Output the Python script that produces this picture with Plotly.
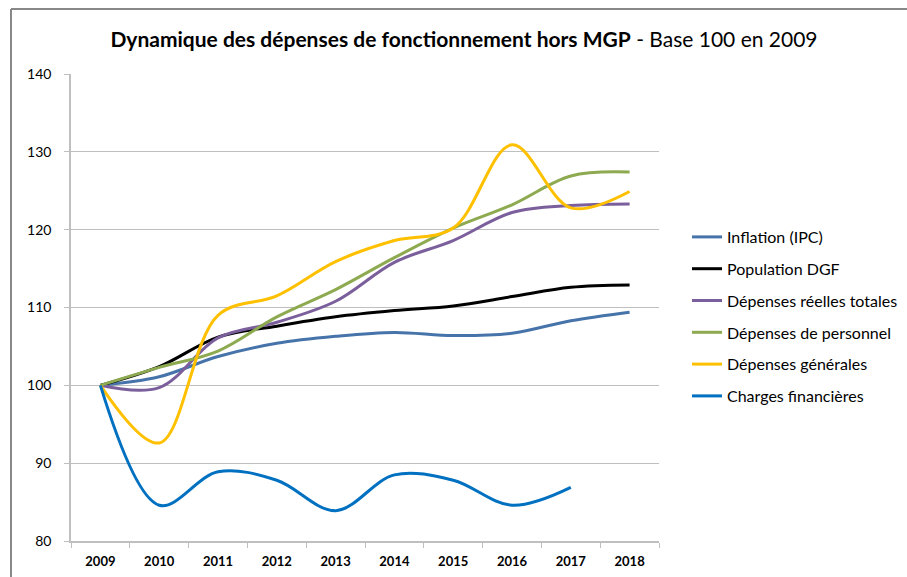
import plotly.graph_objects as go

years = ["2009", "2010", "2011", "2012", "2013", "2014", "2015", "2016", "2017", "2018"]

inflation = [100, 101.1, 103.7, 105.4, 106.3, 106.8, 106.4, 106.7, 108.3, 109.4]
population = [100, 102.4, 106.2, 107.6, 108.8, 109.6, 110.2, 111.4, 112.6, 112.9]
dep_totales = [100, 99.7, 106.1, 108.1, 110.8, 115.8, 118.6, 122.2, 123.1, 123.3]
dep_personnel = [100, 102.3, 104.4, 108.8, 112.3, 116.4, 120.2, 123.2, 126.9, 127.4]
dep_generales = [100, 92.6, 109.0, 111.5, 115.9, 118.6, 120.2, 130.9, 122.8, 124.9]
charges_fin = [100, 84.6, 88.9, 87.8, 83.9, 88.5, 87.8, 84.6, 86.9, None]

series = [
    ("Inflation (IPC)", inflation, "#4674AA"),
    ("Population DGF", population, "#000000"),
    ("Dépenses réelles totales", dep_totales, "#7B5F9C"),
    ("Dépenses de personnel", dep_personnel, "#8DAA50"),
    ("Dépenses générales", dep_generales, "#FFC000"),
    ("Charges financières", charges_fin, "#0070C0"),
]

FONT = "Lato"

fig = go.Figure()
for i, (name, vals, col) in enumerate(series):
    fig.add_trace(go.Scatter(
        x=years, y=vals, name=name, mode="lines",
        line=dict(color=col, width=3, shape="spline", smoothing=1.0),
        legendgroup=f"g{i}",
        connectgaps=False,
    ))

L, R = 71, 659
T, B = 74, 541
W, H = 907, 577
pw = R - L
ph = B - T

def px(x):
    return (x - L) / pw

def py(y):
    return (B - y) / ph

fig.update_layout(
    width=W, height=H,
    margin=dict(l=L, r=W - R, t=T, b=H - B, autoexpand=False),
    paper_bgcolor="white", plot_bgcolor="white",
    font=dict(family=FONT, color="#000000", size=13),
    title=dict(
        text="<b>Dynamique des dépenses de fonctionnement hors MGP</b> - Base 100 en 2009",
        x=464 / W, xanchor="center", y=1 - 40 / H, yanchor="middle",
        font=dict(family=FONT, size=21, color="#000000"),
    ),
    showlegend=True,
    legend=dict(
        x=px(687), xanchor="left", y=py(220), yanchor="top",
        font=dict(family=FONT, size=16, color="#000000"),
        tracegroupgap=8, itemwidth=30,
        bgcolor="rgba(0,0,0,0)",
    ),
    xaxis=dict(
        type="category", range=[-0.5, 9.5],
        showgrid=False, showline=True, linecolor="#BFBFBF", linewidth=1.5,
        ticks="outside", ticklen=5, tickcolor="#BFBFBF", tickwidth=1,
        tickson="boundaries", ticklabelstandoff=8,
        tickfont=dict(family=FONT, size=13, color="#000000", weight="bold"),
        fixedrange=True,
    ),
    yaxis=dict(
        range=[80, 140], dtick=10, tick0=80,
        showgrid=True, gridcolor="#BFBFBF", gridwidth=1,
        showline=True, linecolor="#BFBFBF", linewidth=1.5,
        ticks="outside", ticklen=5, tickcolor="#BFBFBF",
        tickfont=dict(family=FONT, size=14, color="#000000"),
        zeroline=False, ticklabelstandoff=10,
    ),
    shapes=[
        dict(type="line", xref="paper", yref="paper",
             x0=px(11), x1=px(910), y0=py(9), y1=py(9),
             line=dict(color="#888888", width=2)),
        dict(type="line", xref="paper", yref="paper",
             x0=px(11), x1=px(11), y0=py(9), y1=py(600),
             line=dict(color="#888888", width=2)),
    ],
)

fig.write_html("out.html", config={"displayModeBar": False})

with open("out.html", "r", encoding="utf-8") as f:
    html = f.read()
html = html.replace("<head>", "<head><style>html,body{margin:0;padding:0;overflow:hidden;}</style>", 1)
with open("out.html", "w", encoding="utf-8") as f:
    f.write(html)
